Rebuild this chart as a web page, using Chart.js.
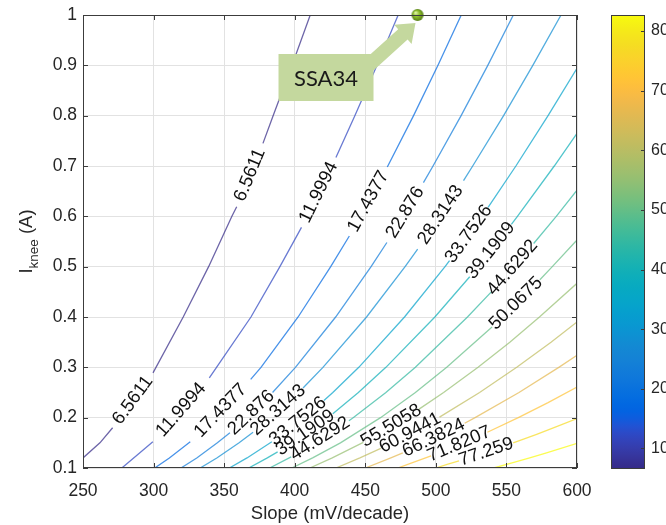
<!DOCTYPE html>
<html>
<head>
<meta charset="utf-8">
<script src="https://cdn.jsdelivr.net/npm/chart.js@4.4.1/dist/chart.umd.min.js"></script>
<style>
  html, body { margin: 0; padding: 0; background: #fff; }
  body { width: 666px; height: 525px; position: relative; overflow: hidden; }
  #plot { position: absolute; left: 0; top: 0; }
  #cbar { position: absolute; left: 600px; top: 0; }
</style>
</head>
<body>
<canvas id="plot" width="600" height="525"></canvas>
<canvas id="cbar" width="66" height="525"></canvas>
<script>
// ---- axes ----
const SLOPE_TICKS = [250, 300, 350, 400, 450, 500, 550, 600];
const IKNEE_TICKS = [0.1, 0.2, 0.3, 0.4, 0.5, 0.6, 0.7, 0.8, 0.9, 1];
const COLORBAR_TICKS = [10, 20, 30, 40, 50, 60, 70, 80];

// ---- contour levels ----
const LEVELS = [6.5611, 11.9994, 17.4377, 22.876, 28.3143, 33.7526, 39.1909, 44.6292,
                50.0675, 55.5058, 60.9441, 66.3824, 71.8207, 77.259, 82.6973];
const LEVEL_LABELS = ['6.5611', '11.9994', '17.4377', '22.876', '28.3143', '33.7526', '39.1909',
                      '44.6292', '50.0675', '55.5058', '60.9441', '66.3824', '71.8207', '77.259', ''];

// Contour paths as [slope (mV/decade), Iknee (A)]; null marks where an inline label sits.
const C01 = [[250,0.12],[262,0.15],[271,0.18],null,[299.6,0.289],[321,0.4],[339,0.5],[355.5,0.6],[358.9,0.619],null,[377.5,0.745],[384.7,0.8],[398.1,0.9],[411,1.0]];
const C02 = [[277.5,0.1],[288,0.125],[299.5,0.152],null,[339.5,0.279],[344.6,0.3],[369,0.4],[389.5,0.5],[404.8,0.578],null,[429.2,0.717],[442.6,0.8],[458.3,0.9],[473.3,1.0]];
const C03 = [[300.8,0.1],[311.2,0.12],[326,0.152],null,[368.8,0.276],[376.1,0.3],[402.4,0.4],[425.5,0.5],[438.7,0.561],null,[465.6,0.698],[484.2,0.8],[501.5,0.9],[518,1.0]];
const C04 = [[319.4,0.1],[330.6,0.12],[345.2,0.15],[354.1,0.17],null,[384.3,0.25],[400.5,0.3],[429,0.4],[454.1,0.5],[465.3,0.548],null,[491.2,0.667],[498,0.7],[517.9,0.8],[536.8,0.9],[554.9,1.0]];
const C05 = [[333,0.1],[344.8,0.12],[360.6,0.15],[370.5,0.171],null,[405.9,0.259],[420,0.3],[450.9,0.4],[478.2,0.5],[487.1,0.535],null,[519.6,0.671],[526.1,0.7],[548,0.8],[568.7,0.9],[588.7,1.0]];
const C06 = [[353.7,0.1],[366.2,0.12],[383.8,0.152],null,[420.7,0.234],[427,0.25],[445.4,0.3],[477.8,0.4],[506.5,0.5],[509.7,0.512],null,[537,0.618],[556.7,0.7],[579.5,0.8],[600,0.894]];
const C07 = [[367.4,0.1],[380.6,0.12],[387.9,0.132],null,[427,0.208],[445.1,0.25],[464.6,0.3],[499.3,0.4],[524,0.48],null,[553.5,0.584],[557.8,0.6],[583.9,0.7],[600,0.765]];
const C08 = [[382.2,0.1],[397.5,0.122],null,[438.4,0.194],[441.4,0.2],[464.6,0.25],[485.5,0.3],[522.4,0.4],[539.3,0.45],null,[569.3,0.546],[585.3,0.6],[600,0.652]];
const C09 = [[397.9,0.1],[412.7,0.12],[432.4,0.15],[460.8,0.2],[485.5,0.25],[507.7,0.3],[539.8,0.38],null,[573.7,0.474],[582.5,0.5],[600,0.553]];
const C10 = [[410.7,0.1],[426.6,0.12],[448.6,0.151],null,[488.1,0.217],[505.5,0.25],[529.9,0.3],[552.4,0.35],[573.4,0.4],[600,0.467]];
const C11 = [[429.2,0.1],[446.2,0.12],[461,0.139],null,[502.6,0.201],[531,0.25],[557.3,0.3],[581.6,0.35],[600,0.39]];
const C12 = [[450,0.1],[468.1,0.12],[476.6,0.13],null,[520.4,0.189],[527.8,0.2],[558.9,0.25],[587.1,0.3],[600,0.324]];
const C13 = [[473,0.1],[483,0.11],[496.6,0.124],null,[536.5,0.171],[558.4,0.2],[579.5,0.23],[600,0.261]];
const C14 = [[499.9,0.1],[508,0.107],[516.4,0.114],null,[554.8,0.15],[571.4,0.167],[585.5,0.182],[600,0.198]];
const C15 = [[541,0.1],[554,0.11],[566.5,0.12],[578.4,0.13],[600,0.149]];
const CONTOURS = [C01, C02, C03, C04, C05, C06, C07, C08, C09, C10, C11, C12, C13, C14, C15];

// Marked diode
const SSA34_NAME = 'SSA34';
const SSA34_SLOPE = [487];
const SSA34_IKNEE = [1.0];

// ---- parula colormap (64 entries) ----
const PARULA = [
[0.2081,0.1663,0.5292],[0.2116,0.1898,0.5777],[0.2123,0.2138,0.6270],[0.2081,0.2386,0.6771],
[0.1959,0.2645,0.7279],[0.1707,0.2919,0.7792],[0.1253,0.3242,0.8303],[0.0591,0.3598,0.8683],
[0.0117,0.3875,0.8820],[0.0060,0.4086,0.8828],[0.0165,0.4266,0.8786],[0.0329,0.4430,0.8720],
[0.0498,0.4586,0.8641],[0.0629,0.4737,0.8554],[0.0723,0.4887,0.8467],[0.0779,0.5040,0.8384],
[0.0793,0.5200,0.8312],[0.0749,0.5375,0.8263],[0.0641,0.5570,0.8240],[0.0488,0.5772,0.8228],
[0.0343,0.5966,0.8199],[0.0265,0.6137,0.8135],[0.0239,0.6287,0.8038],[0.0231,0.6418,0.7913],
[0.0228,0.6535,0.7768],[0.0267,0.6642,0.7607],[0.0384,0.6743,0.7436],[0.0590,0.6838,0.7254],
[0.0843,0.6928,0.7062],[0.1133,0.7015,0.6859],[0.1453,0.7098,0.6646],[0.1801,0.7177,0.6424],
[0.2178,0.7250,0.6193],[0.2586,0.7317,0.5954],[0.3022,0.7376,0.5712],[0.3482,0.7424,0.5473],
[0.3953,0.7459,0.5244],[0.4420,0.7481,0.5033],[0.4871,0.7491,0.4840],[0.5300,0.7491,0.4661],
[0.5709,0.7485,0.4494],[0.6099,0.7473,0.4337],[0.6473,0.7456,0.4188],[0.6834,0.7435,0.4044],
[0.7184,0.7411,0.3905],[0.7525,0.7384,0.3768],[0.7858,0.7356,0.3633],[0.8185,0.7327,0.3498],
[0.8507,0.7299,0.3360],[0.8824,0.7274,0.3217],[0.9139,0.7258,0.3063],[0.9450,0.7261,0.2886],
[0.9739,0.7314,0.2666],[0.9938,0.7455,0.2403],[0.9990,0.7653,0.2164],[0.9955,0.7861,0.1967],
[0.9880,0.8066,0.1794],[0.9789,0.8271,0.1633],[0.9697,0.8481,0.1475],[0.9626,0.8705,0.1309],
[0.9589,0.8949,0.1132],[0.9598,0.9218,0.0948],[0.9661,0.9514,0.0755],[0.9763,0.9831,0.0538]];

const CMIN = LEVELS[0];
const CMAX = LEVELS[LEVELS.length - 1];
const FONT = '"Liberation Sans", Arial, Helvetica, sans-serif';
const AXIS_TEXT = '#262626';

function parulaAt(t, alpha = 1) {
  t = Math.min(1, Math.max(0, t));
  const p = t * (PARULA.length - 1);
  const i = Math.floor(p), f = p - i;
  const a = PARULA[i], b = PARULA[Math.min(i + 1, PARULA.length - 1)];
  const c = a.map((v, k) => Math.round(255 * (v + (b[k] - v) * f)));
  return `rgba(${c[0]},${c[1]},${c[2]},${alpha})`;
}

function makeSphere(r) {
  const c = document.createElement('canvas');
  c.width = c.height = 2 * r + 2;
  const g = c.getContext('2d');
  const m = r + 1;
  const grad = g.createRadialGradient(m - r * 0.35, m - r * 0.4, r * 0.1, m, m, r);
  grad.addColorStop(0, '#dcf0a0');
  grad.addColorStop(0.45, '#8fbf2c');
  grad.addColorStop(1, '#557f14');
  g.fillStyle = grad;
  g.beginPath(); g.arc(m, m, r, 0, Math.PI * 2); g.fill();
  return c;
}

// ---- plugins ----
const frame = {
  id: 'frame',
  afterDatasetsDraw(chart) {
    const { ctx, chartArea: a, scales: { x, y } } = chart;
    ctx.save();
    ctx.strokeStyle = '#3c3c3c';
    ctx.lineWidth = 1;
    ctx.beginPath();
    SLOPE_TICKS.forEach(v => {
      const px = Math.round(x.getPixelForValue(v)) + 0.5;
      ctx.moveTo(px, a.bottom); ctx.lineTo(px, a.bottom - 5);
      ctx.moveTo(px, a.top); ctx.lineTo(px, a.top + 5);
    });
    IKNEE_TICKS.forEach(v => {
      const py = Math.round(y.getPixelForValue(v)) + 0.5;
      ctx.moveTo(a.left, py); ctx.lineTo(a.left + 5, py);
      ctx.moveTo(a.right, py); ctx.lineTo(a.right - 5, py);
    });
    ctx.stroke();
    ctx.strokeRect(a.left + 0.5, a.top + 0.5, a.right - a.left - 1, a.bottom - a.top - 1);
    ctx.restore();
  }
};

const contourLabels = {
  id: 'contourLabels',
  afterDatasetsDraw(chart) {
    const { ctx, scales: { x, y } } = chart;
    ctx.save();
    ctx.font = `18.5px ${FONT}`;
    ctx.fillStyle = '#111';
    ctx.textAlign = 'center';
    ctx.textBaseline = 'middle';
    CONTOURS.forEach((pts, k) => {
      const text = LEVEL_LABELS[k];
      if (!text) return;
      for (let i = 1; i < pts.length - 1; i++) {
        if (pts[i] !== null) continue;
        const p = pts[i - 1], q = pts[i + 1];
        const ax = x.getPixelForValue(p[0]), ay = y.getPixelForValue(p[1]);
        const bx = x.getPixelForValue(q[0]), by = y.getPixelForValue(q[1]);
        let ang = Math.atan2(by - ay, bx - ax);
        if (ang > Math.PI / 2) ang -= Math.PI;
        if (ang < -Math.PI / 2) ang += Math.PI;
        ctx.save();
        ctx.translate((ax + bx) / 2, (ay + by) / 2);
        ctx.rotate(ang);
        ctx.fillText(text, 0, 0);
        ctx.restore();
      }
    });
    ctx.restore();
  }
};

const titles = {
  id: 'titles',
  afterDraw(chart) {
    const { ctx, chartArea: a } = chart;
    ctx.save();
    ctx.fillStyle = AXIS_TEXT;
    ctx.font = `18.5px ${FONT}`;
    ctx.textAlign = 'center';
    ctx.textBaseline = 'middle';
    ctx.fillText('Slope (mV/decade)', (a.left + a.right) / 2, 514);

    // I_knee (A), rotated
    const big = `18.5px ${FONT}`, small = `13.5px ${FONT}`;
    ctx.font = big; const w1 = ctx.measureText('I').width; const w3 = ctx.measureText(' (A)').width;
    ctx.font = small; const w2 = ctx.measureText('knee').width;
    const total = w1 + w2 + w3;
    ctx.translate(32, (a.top + a.bottom) / 2);
    ctx.rotate(-Math.PI / 2);
    ctx.textAlign = 'left';
    ctx.textBaseline = 'alphabetic';
    let xx = -total / 2;
    ctx.font = big; ctx.fillText('I', xx, 0); xx += w1;
    ctx.font = small; ctx.fillText('knee', xx, 6); xx += w2;
    ctx.font = big; ctx.fillText(' (A)', xx, 0);
    ctx.restore();
  }
};

const callout = {
  id: 'callout',
  afterDraw(chart) {
    const { ctx, scales: { x, y } } = chart;
    const px = x.getPixelForValue(SSA34_SLOPE[0]);
    const py = y.getPixelForValue(SSA34_IKNEE[0]);
    const boxL = px - 139, boxT = py + 39, boxW = 95, boxH = 47;
    const fill = '#c4d89e';
    ctx.save();
    // arrow from the box up to the marker
    const sx = boxL + boxW - 10, sy = boxT + 16;
    const tx = px - 2, ty = py + 8;
    const ang = Math.atan2(ty - sy, tx - sx);
    const headLen = 17, headW = 13, shaftW = 7;
    const bxp = tx - headLen * Math.cos(ang), byp = ty - headLen * Math.sin(ang);
    const nx = -Math.sin(ang), ny = Math.cos(ang);
    ctx.fillStyle = fill;
    ctx.beginPath();
    ctx.moveTo(sx + nx * shaftW, sy + ny * shaftW);
    ctx.lineTo(bxp + nx * shaftW, byp + ny * shaftW);
    ctx.lineTo(bxp + nx * headW, byp + ny * headW);
    ctx.lineTo(tx, ty);
    ctx.lineTo(bxp - nx * headW, byp - ny * headW);
    ctx.lineTo(bxp - nx * shaftW, byp - ny * shaftW);
    ctx.lineTo(sx - nx * shaftW, sy - ny * shaftW);
    ctx.closePath();
    ctx.fill();
    // label box
    ctx.fillRect(boxL, boxT, boxW, boxH);
    ctx.fillStyle = '#1a1a1a';
    ctx.font = '22px Lato, "Open Sans", sans-serif';
    ctx.textAlign = 'center';
    ctx.textBaseline = 'middle';
    ctx.fillText(SSA34_NAME, boxL + boxW / 2, boxT + boxH / 2 + 1);
    ctx.restore();
  }
};

// ---- main contour chart ----
const contourSets = CONTOURS.map((pts, k) => ({
  label: LEVEL_LABELS[k] || String(LEVELS[k]),
  data: pts.map(p => (p ? { x: p[0], y: p[1] } : { x: null, y: null })),
  showLine: true,
  spanGaps: false,
  borderColor: parulaAt((LEVELS[k] - CMIN) / (CMAX - CMIN), 0.72),
  borderWidth: 1.3,
  pointRadius: 0,
  tension: 0
}));

const markerSet = {
  label: SSA34_NAME,
  data: SSA34_SLOPE.map((s, i) => ({ x: s, y: SSA34_IKNEE[i] })),
  showLine: false,
  pointStyle: makeSphere(6),
  pointRadius: 6,
  clip: false
};

new Chart(document.getElementById('plot'), {
  type: 'scatter',
  data: { datasets: [...contourSets, markerSet] },
  options: {
    responsive: false,
    animation: false,
    events: [],
    layout: { padding: { left: 0, top: 15, right: 23, bottom: 0 } },
    plugins: { legend: { display: false }, tooltip: { enabled: false } },
    scales: {
      x: {
        type: 'linear', min: 250, max: 600,
        afterBuildTicks: s => { s.ticks = SLOPE_TICKS.map(v => ({ value: v })); },
        afterFit: s => { s.height = 57; s.paddingLeft = 0; s.paddingRight = 0; },
        grid: { color: '#e2e2e2', lineWidth: 1, drawTicks: false },
        border: { display: false },
        ticks: { font: { family: FONT, size: 17.5 }, color: AXIS_TEXT, padding: 13, maxRotation: 0,
                 callback: v => String(v) }
      },
      y: {
        type: 'linear', min: 0.1, max: 1,
        afterBuildTicks: s => { s.ticks = IKNEE_TICKS.map(v => ({ value: v })); },
        afterFit: s => { s.width = 83; s.paddingTop = 0; s.paddingBottom = 0; },
        grid: { color: '#e2e2e2', lineWidth: 1, drawTicks: false },
        border: { display: false },
        ticks: { font: { family: FONT, size: 17.5 }, color: AXIS_TEXT, padding: 6,
                 callback: v => String(+Number(v).toFixed(1)) }
      }
    }
  },
  plugins: [frame, contourLabels, titles, callout]
});

// ---- colorbar ----
const barOutline = {
  id: 'barOutline',
  afterDatasetsDraw(chart) {
    const { ctx, chartArea: a, scales: { y } } = chart;
    ctx.save();
    ctx.strokeStyle = '#3c3c3c';
    ctx.lineWidth = 1;
    ctx.beginPath();
    COLORBAR_TICKS.forEach(v => {
      const py = Math.round(y.getPixelForValue(v)) + 0.5;
      ctx.moveTo(a.right, py); ctx.lineTo(a.right - 4, py);
    });
    ctx.stroke();
    ctx.strokeRect(a.left + 0.5, a.top + 0.5, a.right - a.left - 1, a.bottom - a.top - 1);
    ctx.restore();
  }
};

function parulaGradient(c) {
  const a = c.chart.chartArea;
  if (!a) return parulaAt(0.5);
  const g = c.chart.ctx.createLinearGradient(0, a.bottom, 0, a.top);
  PARULA.forEach((_, i) => g.addColorStop(i / (PARULA.length - 1), parulaAt(i / (PARULA.length - 1))));
  return g;
}

new Chart(document.getElementById('cbar'), {
  type: 'bar',
  data: {
    labels: [''],
    datasets: [{
      data: [[CMIN, CMAX]],
      barPercentage: 1,
      categoryPercentage: 1,
      borderWidth: 0,
      backgroundColor: parulaGradient
    }]
  },
  options: {
    responsive: false,
    animation: false,
    events: [],
    layout: { padding: { left: 11, top: 15, right: 0, bottom: 56 } },
    plugins: { legend: { display: false }, tooltip: { enabled: false } },
    scales: {
      x: { display: false },
      y: {
        position: 'right', min: CMIN, max: CMAX,
        afterBuildTicks: s => { s.ticks = COLORBAR_TICKS.map(v => ({ value: v })); },
        afterFit: s => { s.width = 21; s.paddingTop = 0; s.paddingBottom = 0; },
        grid: { display: false, drawTicks: false },
        border: { display: false },
        ticks: { font: { family: FONT, size: 16 }, color: AXIS_TEXT, padding: 6 }
      }
    }
  },
  plugins: [barOutline]
});
</script>
</body>
</html>
